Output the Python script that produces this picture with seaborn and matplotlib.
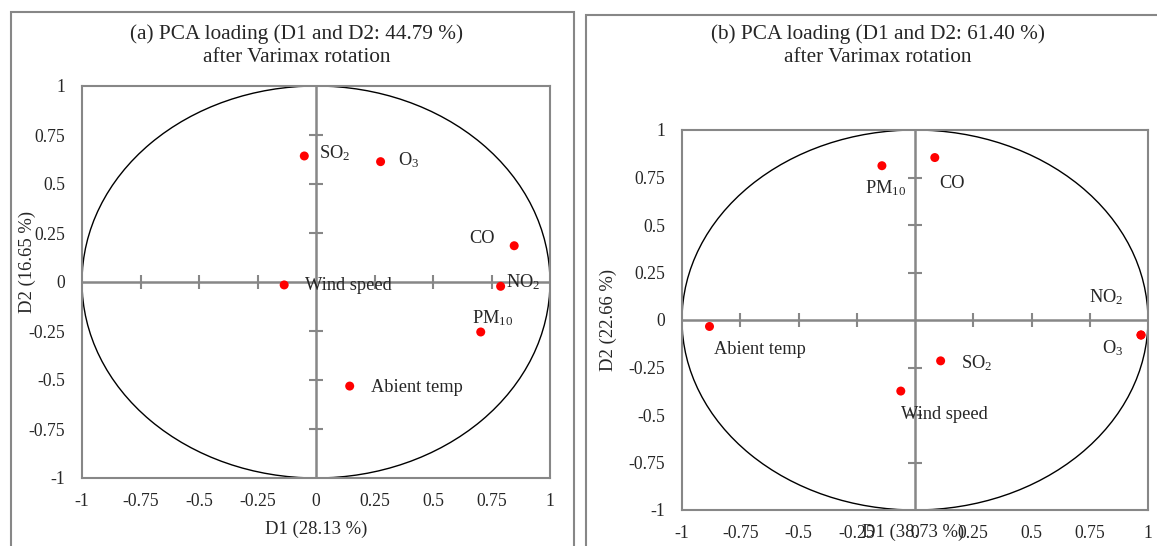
import matplotlib
matplotlib.use("Agg")
import pandas as pd
import matplotlib.pyplot as plt
import seaborn as sns
from matplotlib.patches import Ellipse, Rectangle

# (a) loadings
labels_a = ["SO$_2$", "O$_3$", "CO", "NO$_2$", "PM$_{10}$", "Wind speed", "Abient temp"]
d1_a = [-0.05, 0.276, 0.847, 0.789, 0.704, -0.136, 0.144]
d2_a = [0.643, 0.614, 0.185, -0.022, -0.255, -0.015, -0.531]

# (b) loadings
labels_b = ["PM$_{10}$", "CO", "Abient temp", "SO$_2$", "Wind speed", "O$_3$", "NO$_2$"]
d1_b = [-0.142, 0.085, -0.882, 0.11, -0.061, 0.97, 0.97]
d2_b = [0.812, 0.855, -0.034, -0.215, -0.374, -0.079, -0.079]

ticks = [-1, -0.75, -0.5, -0.25, 0, 0.25, 0.5, 0.75, 1]
tick_labels = ["-1", "-0.75", "-0.5", "-0.25", "0", "0.25", "0.5", "0.75", "1"]

# label offsets in pixels (dx, dy, ha)
offs_a = [(15, 3, "left"), (17, 2, "left"), (-19, 7, "right"), (5, 4, "left"),
          (-9, 14, "left"), (21, -1, "left"), (21, -1, "left")]
offs_b = [(-17, -22, "left"), (4, -26, "left"), (5, -23, "left"), (20, -2, "left"),
          (0, -23, "left"), (-18, -13, "right"), (-18, 38, "right")]

sns.set_style("white")
plt.rcParams["font.family"] = ["Liberation Serif", "DejaVu Serif"]
plt.rcParams["mathtext.fontset"] = "custom"
plt.rcParams["mathtext.rm"] = "Liberation Serif"
plt.rcParams["mathtext.it"] = "Liberation Serif:italic"
plt.rcParams["mathtext.bf"] = "Liberation Serif:bold"

GRAY = "#878787"
W, H = 1157, 546

fig = plt.figure(figsize=(W / 100, H / 100), dpi=100)

# panel frames
fig.add_artist(Rectangle((10.5 / W, -0.1), (574 - 10.5) / W, 1.1 - 11.7 / H,
                         transform=fig.transFigure, fill=False, ec=GRAY, lw=1.5))
fig.add_artist(Rectangle((585.5 / W, -0.1), 0.6, 1.1 - 15 / H,
                         transform=fig.transFigure, fill=False, ec=GRAY, lw=1.5))


def draw_panel(ax, labels, d1, d2, offs, titles, xlab, ylab, xlab_pos, ylab_pos, title_x):
    df = pd.DataFrame({"D1": d1, "D2": d2, "label": labels})
    ax.set_xlim(-1, 1)
    ax.set_ylim(-1, 1)
    ax.add_patch(Ellipse((0, 0), 2, 2, fill=False, ec="black", lw=1.0, zorder=1))
    ax.axhline(0, color=GRAY, lw=1.8, zorder=2)
    ax.axvline(0, color=GRAY, lw=1.8, zorder=2)
    inner = [t for t in ticks if t not in (-1, 0, 1)]
    ax.plot(inner, [0] * len(inner), ls="none", marker="|", ms=10, mew=1.5, color=GRAY, zorder=2)
    ax.plot([0] * len(inner), inner, ls="none", marker="_", ms=10, mew=1.5, color=GRAY, zorder=2)
    sns.scatterplot(data=df, x="D1", y="D2", color="red", s=42, edgecolor="none",
                    legend=False, ax=ax, zorder=3)
    for (_, r), (dx, dy, ha) in zip(df.iterrows(), offs):
        ax.annotate(r["label"], (r["D1"], r["D2"]), xytext=(dx, dy), textcoords="offset pixels",
                    ha=ha, va="center", fontsize=13.2, zorder=4)
    ax.set_xticks(ticks)
    ax.set_xticklabels(tick_labels)
    ax.set_yticks(ticks)
    ax.set_yticklabels(tick_labels)
    ax.tick_params(axis="both", length=0, labelsize=12.7)
    ax.tick_params(axis="y", pad=12)
    ax.tick_params(axis="x", pad=11)
    for s in ax.spines.values():
        s.set_color(GRAY)
        s.set_linewidth(1.5)
    ax.set_xlabel(xlab, fontsize=13.4)
    ax.set_ylabel(ylab, fontsize=13.4)
    ax.xaxis.set_label_coords(*xlab_pos)
    ax.yaxis.set_label_coords(*ylab_pos)
    for line, y in zip(titles, (34, 57.5)):
        fig.text(title_x / W, 1 - y / H, line, ha="center", va="center", fontsize=15.3)


ax_a = fig.add_axes([82 / W, 1 - 478 / H, 468 / W, 392 / H])
draw_panel(ax_a, labels_a, d1_a, d2_a, offs_a,
           ["(a) PCA loading (D1 and D2: 44.79 %)", "after Varimax rotation"],
           "D1 (28.13 %)", "D2 (16.65 %)", (0.5, -0.11), (-0.098, 0.551), 296.5)

ax_b = fig.add_axes([682 / W, 1 - 510 / H, 466 / W, 380 / H])
draw_panel(ax_b, labels_b, d1_b, d2_b, offs_b,
           ["(b) PCA loading (D1 and D2: 61.40 %)", "after Varimax rotation"],
           "D1 (38.73 %)", "D2 (22.66 %)", (0.496, -0.037), (-0.139, 0.5), 877.5)

fig.savefig("out.png", dpi=100)
